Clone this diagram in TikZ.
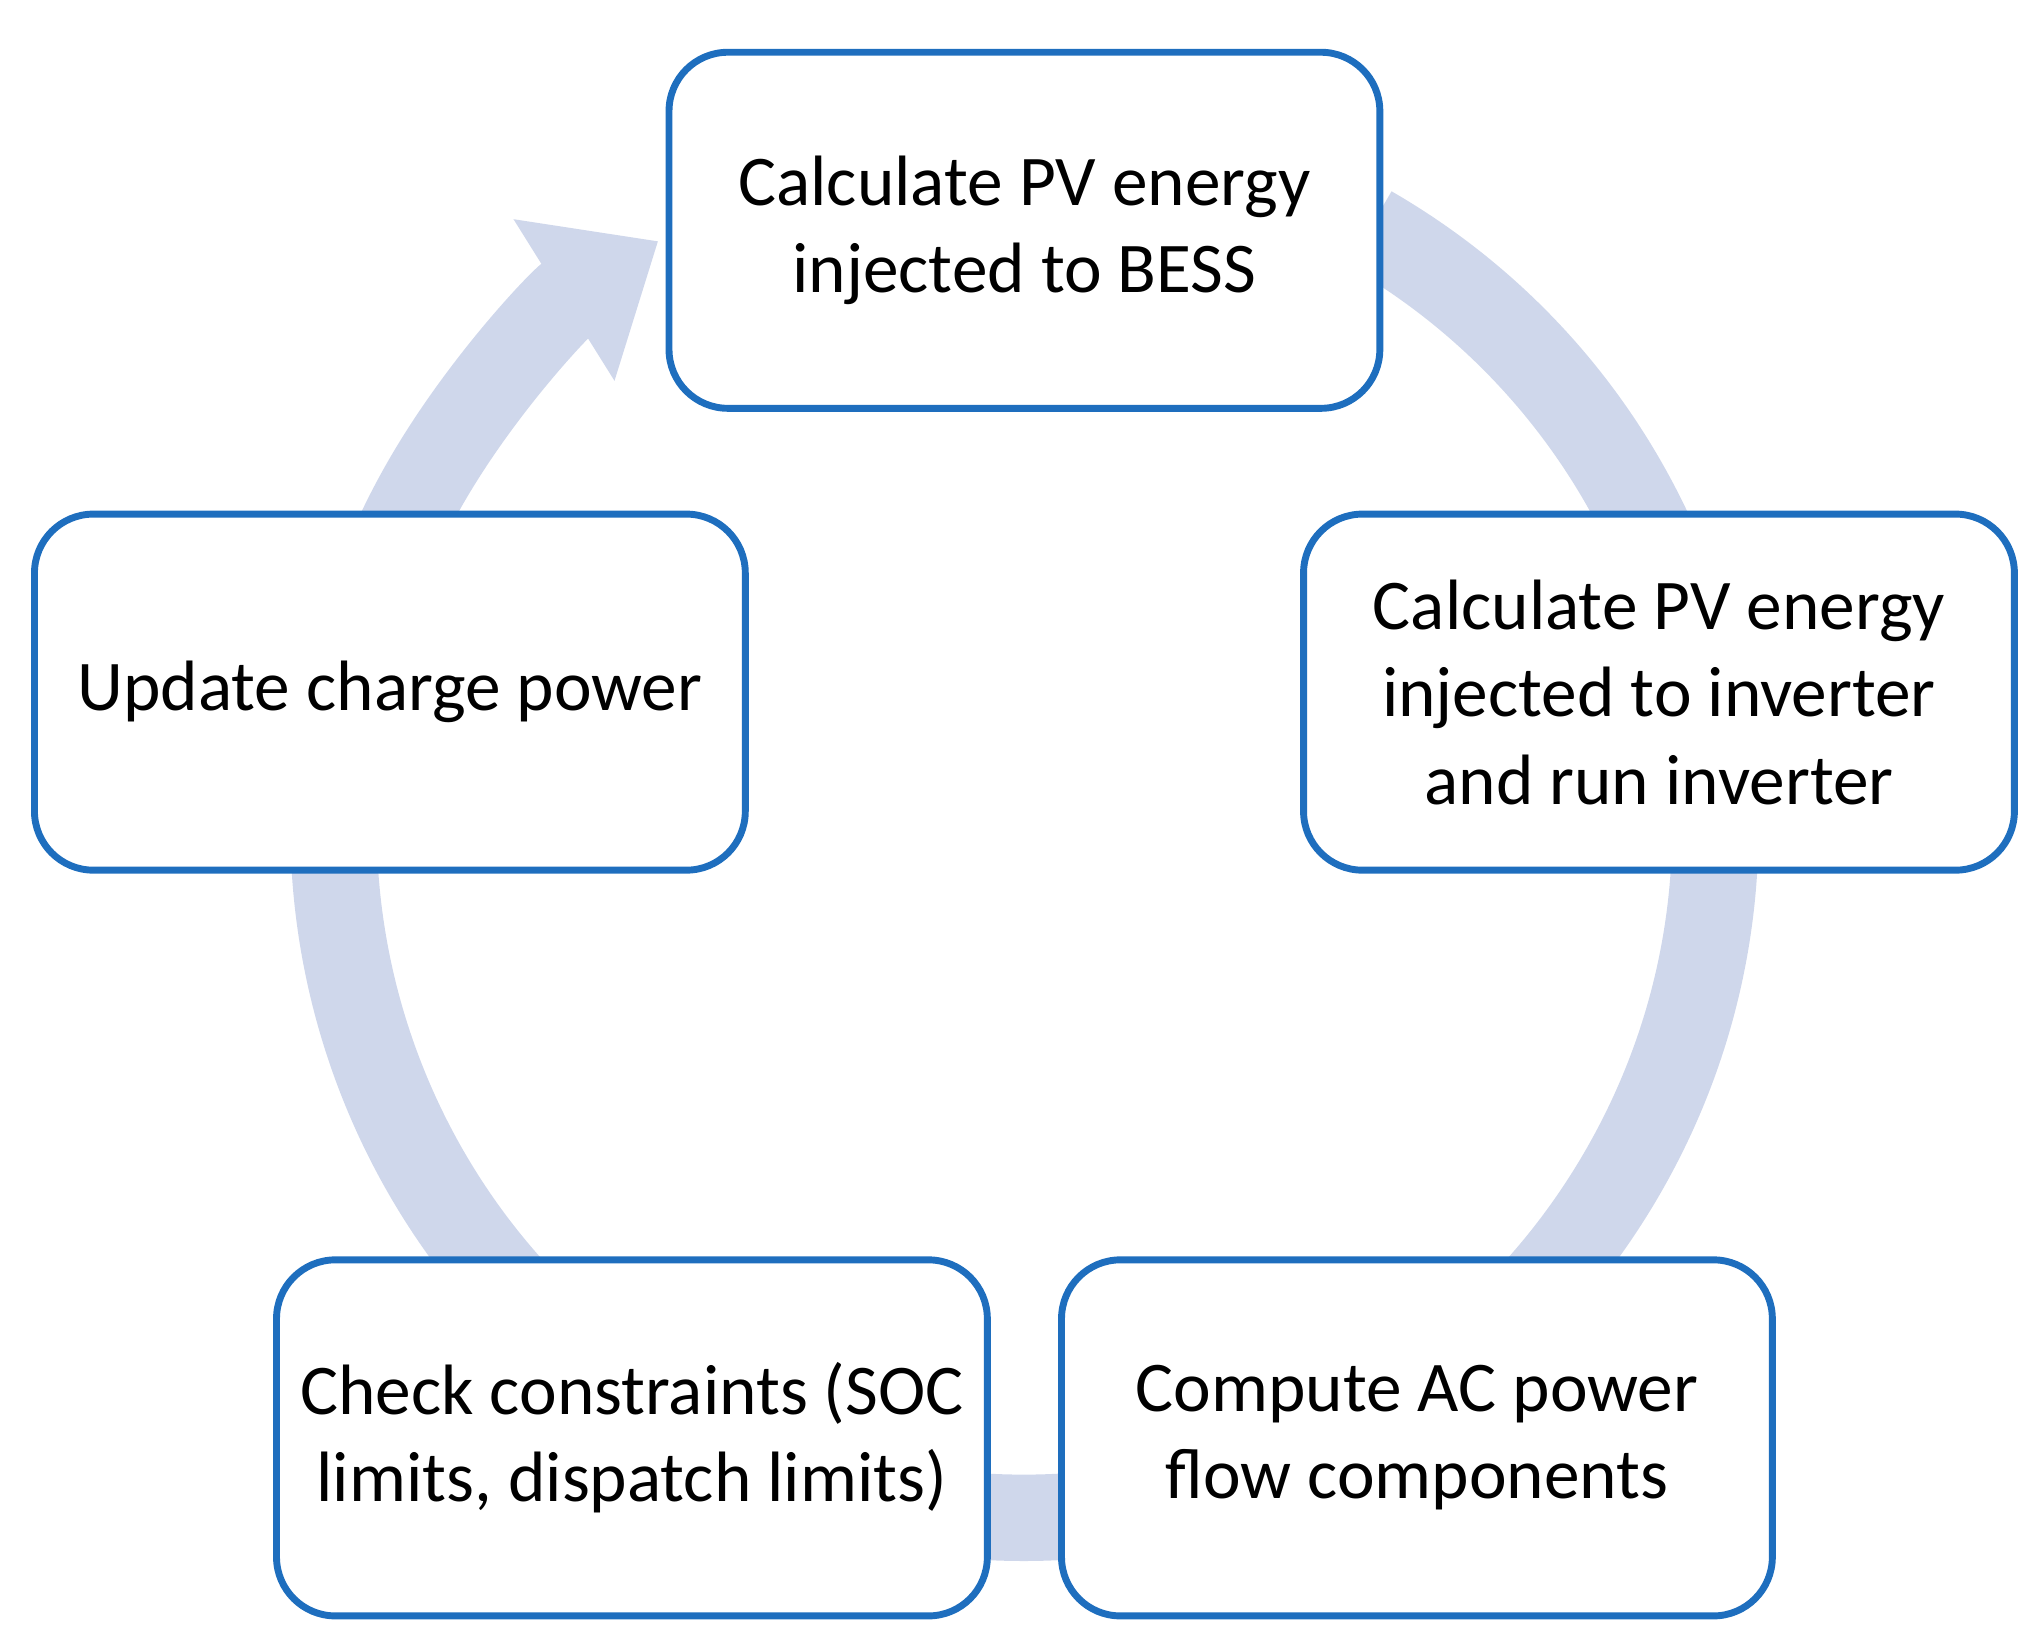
\documentclass[tikz,border=0pt]{standalone}
\usepackage{fontspec}
\setmainfont{Carlito}
\usetikzlibrary{arrows.meta}
\definecolor{ring}{RGB}{207,215,235}
\definecolor{edge}{RGB}{30,110,190}
\begin{document}
\begin{tikzpicture}[x=0.01cm,y=0.01cm,
  box/.style={draw=edge,line width=1.5pt,fill=white,rounded corners=0.45cm,
    minimum width=5.43cm,minimum height=2.72cm,align=center,
    font=\fontsize{15.5}{19}\selectfont}]
\useasboundingbox (0,0) rectangle (1560,-1247);
\coordinate (c) at (783,-632);
\draw[ring,line width=0.66cm,-{Triangle[length=0.85cm,width=1.4cm]}]
  ([shift={(60:528)}]c) arc[start angle=60,end angle=-238,radius=528];
\node[box] (a) at (783,-176) {Calculate PV energy\\injected to BESS};
\node[box] (b) at (1268,-529) {Calculate PV energy\\injected to inverter\\and run inverter};
\node[box] (d) at (1083,-1099) {Compute AC power\\flow components};
\node[box] (e) at (483,-1099) {Check constraints (SOC\\limits, dispatch limits)};
\node[box] (f) at (298,-529) {Update charge power};
\end{tikzpicture}
\end{document}
